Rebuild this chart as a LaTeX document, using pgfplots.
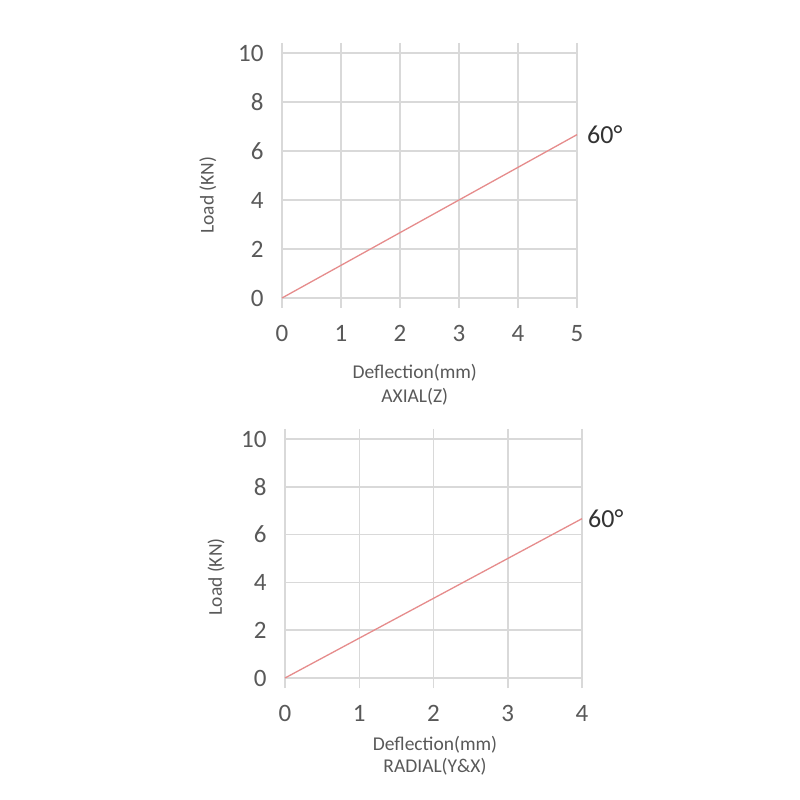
\documentclass[border=0pt]{standalone}
\usepackage{pgfplots}
\pgfplotsset{compat=1.18}
\usepackage{fontspec}
\setmainfont{Carlito}
\definecolor{gridc}{HTML}{D9D9D9}
\definecolor{txt}{HTML}{595959}
\definecolor{linec}{RGB}{230,140,140}
\pgfplotsset{
  myax/.style={
    scale only axis,
    xmin=0, ymin=0, ymax=10,
    ytick={0,2,4,6,8,10},
    grid=major,
    major grid style={gridc, line width=1.5pt},
    axis line style={gridc, line width=1.5pt},
    x tick style={gridc, line width=1.5pt},
    y tick style={draw=none},
    xtick align=outside,
    major tick length=10pt,
    tick label style={font=\fontsize{25}{27}\selectfont, text=txt},
    /pgf/number format/assume math mode=true,
    yticklabel style={xshift=-15pt},
    xticklabel style={yshift=-14pt},
    label style={font=\fontsize{19.5}{24}\selectfont, text=txt},
    xlabel style={align=center, anchor=center},
    ylabel style={anchor=center, rotate=0},
    clip=false,
  }
}
\begin{document}
\begin{tikzpicture}[x=1pt,y=1pt]
\path[use as bounding box, fill=white] (0,0) rectangle (800,800);
\begin{axis}[myax,
  at={(282pt,502pt)}, anchor=south west,
  width=295pt, height=245pt,
  xmax=5, xtick={0,1,2,3,4,5},
  xlabel={Deflection(mm)\\AXIAL(Z)},
  xlabel style={at={(axis description cs:0.45,-0.355)}},
  ylabel={Load (KN)},
  ylabel style={at={(axis description cs:-0.251,0.42)}},
]
\addplot[linec, line width=1.3pt] coordinates {(0,0) (1,1.333) (2,2.667) (3,4) (4,5.333) (5,6.667)};
\node[anchor=west, inner sep=0pt, xshift=10pt, font=\fontsize{26}{28}\selectfont, text=black!80] at (axis cs:5,6.667) {60°};
\end{axis}
\begin{axis}[myax,
  at={(285pt,122pt)}, anchor=south west,
  width=297pt, height=239pt,
  xmax=4, xtick={0,1,2,3,4},
  xlabel={Deflection(mm)\\RADIAL(Y\&X)},
  xlabel style={at={(axis description cs:0.505,-0.326)}, font=\fontsize{19.5}{22}\selectfont},
  ylabel={Load (KN)},
  ylabel style={at={(axis description cs:-0.232,0.423)}},
]
\addplot[linec, line width=1.3pt] coordinates {(0,0) (1,1.667) (2,3.333) (3,5) (4,6.667)};
\node[anchor=west, inner sep=0pt, xshift=6pt, font=\fontsize{26}{28}\selectfont, text=black!80] at (axis cs:4,6.667) {60°};
\end{axis}
\end{tikzpicture}
\end{document}
